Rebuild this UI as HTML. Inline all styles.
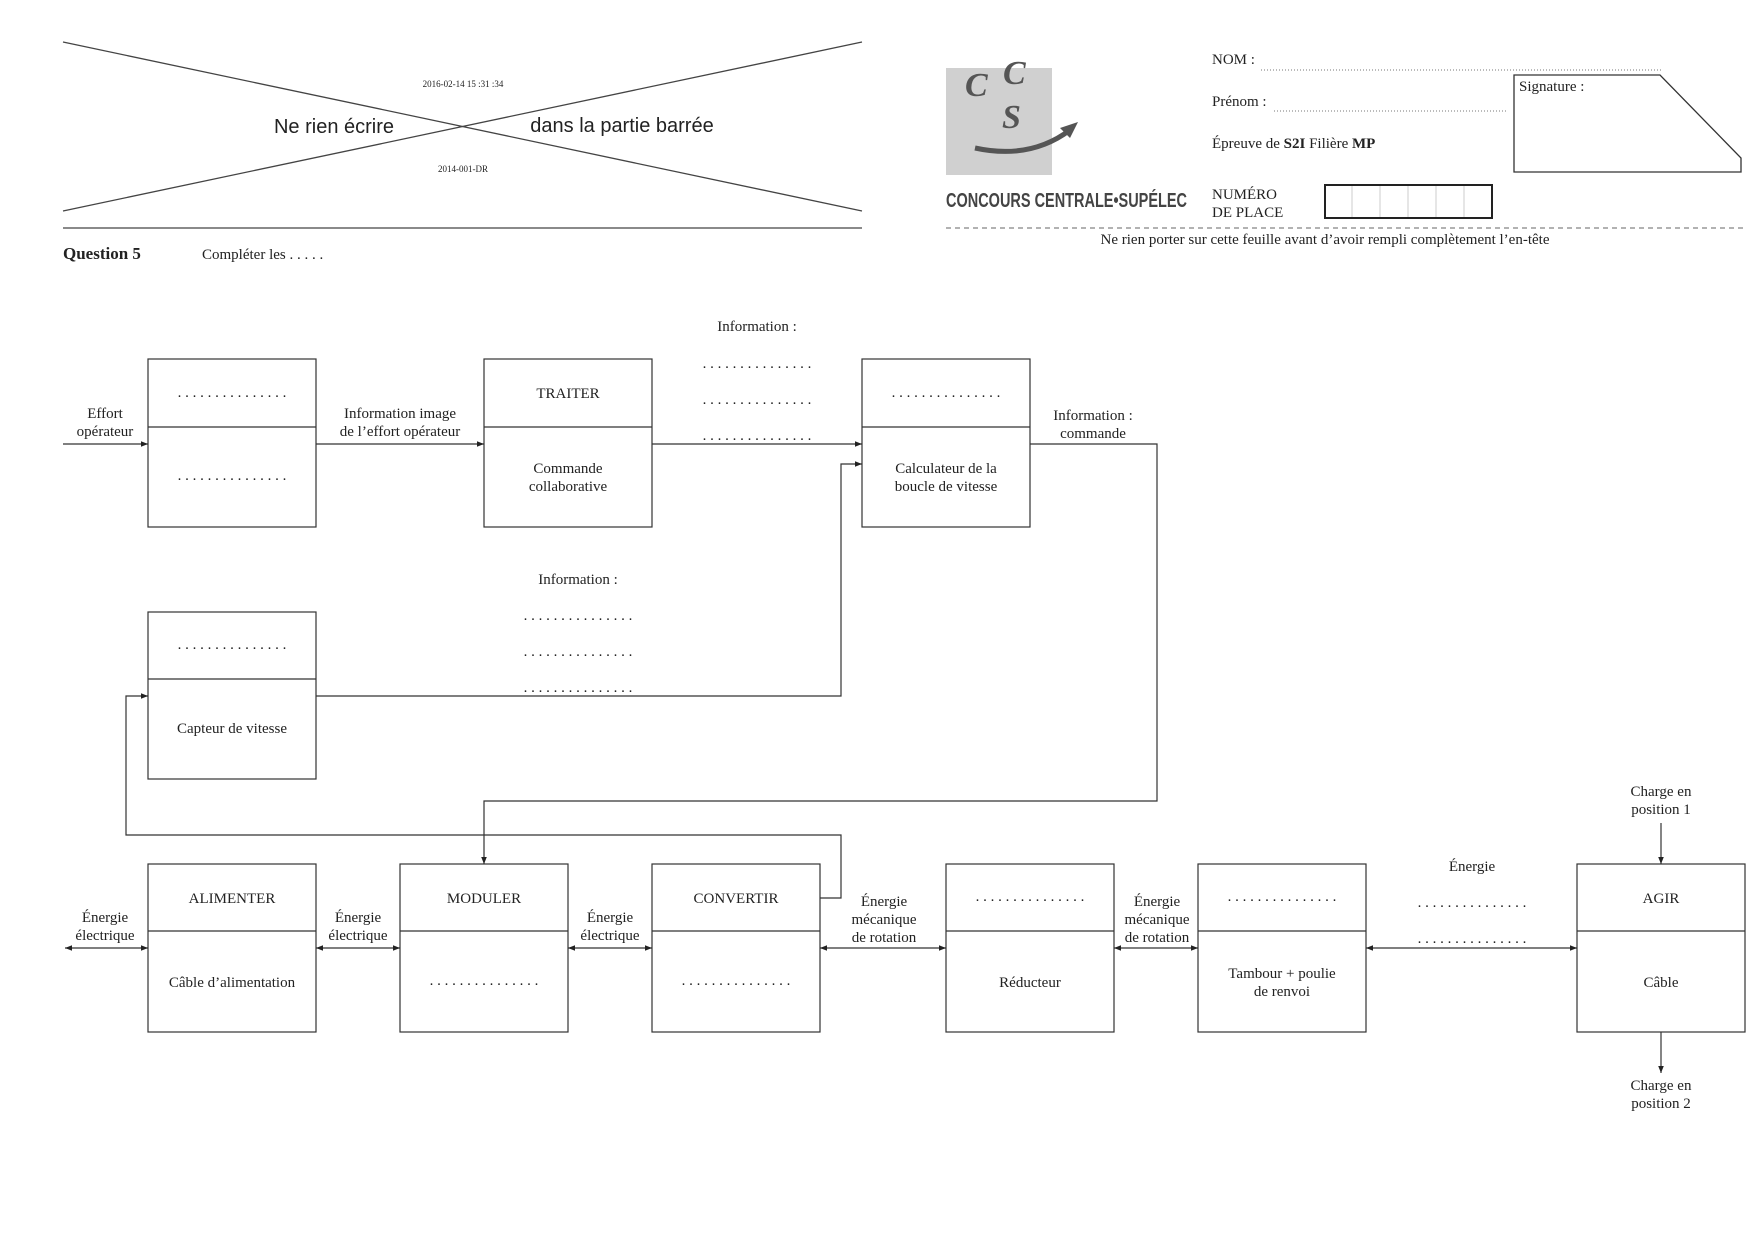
<!DOCTYPE html>
<html><head><meta charset="utf-8"><style>
html,body{margin:0;padding:0;background:#fff;}
svg{display:block;}
text{font-family:"Liberation Serif",serif;font-size:15px;fill:#222;}
.s{font-family:"Liberation Sans",sans-serif;}
.big{font-size:20px;}
.tiny{font-size:9px;}
.q{font-size:17px;font-weight:bold;}
.logo{font-size:34px;font-style:italic;font-weight:bold;fill:#555;}
.cc{font-size:20px;fill:#444;font-family:"Liberation Sans",sans-serif;font-weight:bold;}
</style></head><body>
<svg width="1757" height="1243" viewBox="0 0 1757 1243" xmlns="http://www.w3.org/2000/svg">
<defs>
<marker id="a" viewBox="0 0 10 10" refX="10" refY="5" markerWidth="6" markerHeight="6" orient="auto-start-reverse"><path d="M0,1 L10,5 L0,9 z" fill="#222"/></marker>
</defs>
<g stroke="#444" stroke-width="1.3" fill="none">
<line x1="63" y1="42" x2="862" y2="211"/>
<line x1="63" y1="211" x2="862" y2="42"/>
<line x1="63" y1="228" x2="862" y2="228"/>
</g>
<text class="tiny" x="463" y="87" text-anchor="middle">2016-02-14 15 :31 :34</text>
<text class="tiny" x="463" y="172" text-anchor="middle">2014-001-DR</text>
<text class="s big" x="334" y="133" text-anchor="middle">Ne rien écrire</text>
<text class="s big" x="622" y="132" text-anchor="middle">dans la partie barrée</text>
<!-- logo -->
<rect x="946" y="68" width="106" height="107" fill="#d0d0d0"/>
<text class="logo" x="965" y="96">C</text>
<text class="logo" x="1003" y="84">C</text>
<text class="logo" x="1002" y="128">S</text>
<path d="M975,148 Q1030,160 1070,130" stroke="#555" stroke-width="5" fill="none"/>
<path d="M1060,128 L1078,122 L1070,138 z" fill="#555"/>
<text class="cc" x="946" y="207" textLength="241" lengthAdjust="spacingAndGlyphs">CONCOURS CENTRALE•SUPÉLEC</text>
<text x="1212" y="64">NOM :</text>
<line x1="1261" y1="70" x2="1661" y2="70" stroke="#777" stroke-dasharray="1,2"/>
<text x="1212" y="106">Prénom :</text>
<line x1="1274" y1="111" x2="1507" y2="111" stroke="#777" stroke-dasharray="1,2"/>
<text x="1212" y="148">Épreuve de <tspan font-weight="bold">S2I</tspan> Filière <tspan font-weight="bold">MP</tspan></text>
<path d="M1514,75 H1660 L1741,158 V172 H1514 Z" fill="none" stroke="#333" stroke-width="1.3"/>
<text x="1519" y="91">Signature :</text>
<text x="1212" y="199">NUMÉRO</text>
<text x="1212" y="217">DE PLACE</text>
<g stroke="#ccc"><line x1="1352" y1="185" x2="1352" y2="218"/><line x1="1380" y1="185" x2="1380" y2="218"/><line x1="1408" y1="185" x2="1408" y2="218"/><line x1="1436" y1="185" x2="1436" y2="218"/><line x1="1464" y1="185" x2="1464" y2="218"/></g>
<rect x="1325" y="185" width="167" height="33" fill="none" stroke="#222" stroke-width="2"/>
<line x1="946" y1="228" x2="1746" y2="228" stroke="#666" stroke-dasharray="5,4"/>
<text x="1325" y="244" text-anchor="middle">Ne rien porter sur cette feuille avant d’avoir rempli complètement l’en-tête</text>
<text class="q" x="63" y="259">Question 5</text>
<text x="202" y="259">Compléter les . . . . .</text>

<!-- boxes -->
<g fill="none" stroke="#333" stroke-width="1.2">
<rect x="148" y="359" width="168" height="168"/><line x1="148" y1="427" x2="316" y2="427"/>
<rect x="484" y="359" width="168" height="168"/><line x1="484" y1="427" x2="652" y2="427"/>
<rect x="862" y="359" width="168" height="168"/><line x1="862" y1="427" x2="1030" y2="427"/>
<rect x="148" y="612" width="168" height="167"/><line x1="148" y1="679" x2="316" y2="679"/>
<rect x="148" y="864" width="168" height="168"/><line x1="148" y1="931" x2="316" y2="931"/>
<rect x="400" y="864" width="168" height="168"/><line x1="400" y1="931" x2="568" y2="931"/>
<rect x="652" y="864" width="168" height="168"/><line x1="652" y1="931" x2="820" y2="931"/>
<rect x="946" y="864" width="168" height="168"/><line x1="946" y1="931" x2="1114" y2="931"/>
<rect x="1198" y="864" width="168" height="168"/><line x1="1198" y1="931" x2="1366" y2="931"/>
<rect x="1577" y="864" width="168" height="168"/><line x1="1577" y1="931" x2="1745" y2="931"/>
</g>
<g text-anchor="middle">
<text x="232" y="397">. . . . . . . . . . . . . . .</text>
<text x="232" y="480">. . . . . . . . . . . . . . .</text>
<text x="568" y="398">TRAITER</text>
<text x="568" y="473">Commande</text><text x="568" y="491">collaborative</text>
<text x="946" y="397">. . . . . . . . . . . . . . .</text>
<text x="946" y="473">Calculateur de la</text><text x="946" y="491">boucle de vitesse</text>
<text x="232" y="649">. . . . . . . . . . . . . . .</text>
<text x="232" y="733">Capteur de vitesse</text>
<text x="232" y="903">ALIMENTER</text><text x="232" y="987">Câble d’alimentation</text>
<text x="484" y="903">MODULER</text><text x="484" y="985">. . . . . . . . . . . . . . .</text>
<text x="736" y="903">CONVERTIR</text><text x="736" y="985">. . . . . . . . . . . . . . .</text>
<text x="1030" y="901">. . . . . . . . . . . . . . .</text><text x="1030" y="987">Réducteur</text>
<text x="1282" y="901">. . . . . . . . . . . . . . .</text><text x="1282" y="978">Tambour + poulie</text><text x="1282" y="996">de renvoi</text>
<text x="1661" y="903">AGIR</text><text x="1661" y="987">Câble</text>
<text x="105" y="418">Effort</text><text x="105" y="436">opérateur</text>
<text x="400" y="418">Information image</text><text x="400" y="436">de l’effort opérateur</text>
<text x="757" y="331">Information :</text>
<text x="757" y="368">. . . . . . . . . . . . . . .</text>
<text x="757" y="404">. . . . . . . . . . . . . . .</text>
<text x="757" y="440">. . . . . . . . . . . . . . .</text>
<text x="1093" y="420">Information :</text><text x="1093" y="438">commande</text>
<text x="578" y="584">Information :</text>
<text x="578" y="620">. . . . . . . . . . . . . . .</text>
<text x="578" y="656">. . . . . . . . . . . . . . .</text>
<text x="578" y="692">. . . . . . . . . . . . . . .</text>
<text x="105" y="922">Énergie</text><text x="105" y="940">électrique</text>
<text x="358" y="922">Énergie</text><text x="358" y="940">électrique</text>
<text x="610" y="922">Énergie</text><text x="610" y="940">électrique</text>
<text x="884" y="906">Énergie</text><text x="884" y="924">mécanique</text><text x="884" y="942">de rotation</text>
<text x="1157" y="906">Énergie</text><text x="1157" y="924">mécanique</text><text x="1157" y="942">de rotation</text>
<text x="1472" y="871">Énergie</text>
<text x="1472" y="907">. . . . . . . . . . . . . . .</text>
<text x="1472" y="943">. . . . . . . . . . . . . . .</text>
<text x="1661" y="796">Charge en</text><text x="1661" y="814">position 1</text>
<text x="1661" y="1090">Charge en</text><text x="1661" y="1108">position 2</text>
</g>
<g fill="none" stroke="#333" stroke-width="1.2">
<line x1="63" y1="444" x2="148" y2="444" marker-end="url(#a)"/>
<line x1="316" y1="444" x2="484" y2="444" marker-end="url(#a)"/>
<line x1="652" y1="444" x2="862" y2="444" marker-end="url(#a)"/>
<polyline points="316,696 841,696 841,464 862,464" marker-end="url(#a)"/>
<polyline points="1030,444 1157,444 1157,801 484,801 484,864" marker-end="url(#a)"/>
<polyline points="820,898 841,898 841,835 126,835 126,696 148,696" marker-end="url(#a)"/>
<line x1="65" y1="948" x2="148" y2="948" marker-start="url(#a)" marker-end="url(#a)"/>
<line x1="316" y1="948" x2="400" y2="948" marker-start="url(#a)" marker-end="url(#a)"/>
<line x1="568" y1="948" x2="652" y2="948" marker-start="url(#a)" marker-end="url(#a)"/>
<line x1="820" y1="948" x2="946" y2="948" marker-start="url(#a)" marker-end="url(#a)"/>
<line x1="1114" y1="948" x2="1198" y2="948" marker-start="url(#a)" marker-end="url(#a)"/>
<line x1="1366" y1="948" x2="1577" y2="948" marker-start="url(#a)" marker-end="url(#a)"/>
<line x1="1661" y1="823" x2="1661" y2="864" marker-end="url(#a)"/>
<line x1="1661" y1="1032" x2="1661" y2="1073" marker-end="url(#a)"/>
</g>
</svg>
</body></html>
